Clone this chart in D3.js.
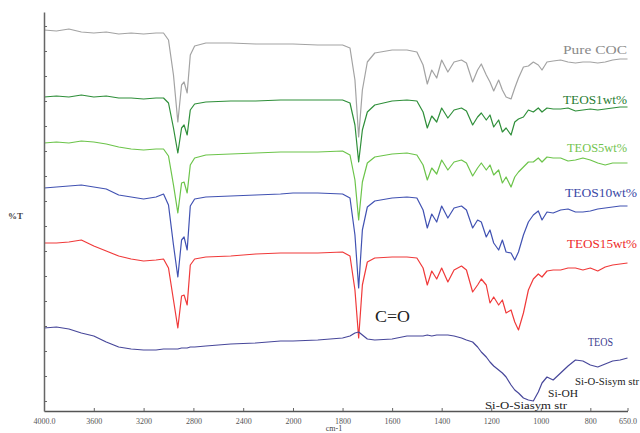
<!DOCTYPE html>
<html>
<head>
<meta charset="utf-8">
<script src="https://cdn.jsdelivr.net/npm/d3@7"></script>
<style>
  body { margin: 0; background: #fff; }
  svg { display: block; }
</style>
</head>
<body>
<svg width="640" height="433"></svg>
<script>
// wavenumber grid (cm-1) shared by all spectra
const wavenumbers = [4000, 3900, 3800, 3700, 3600, 3500, 3400, 3300, 3200, 3100,
  3040, 3000, 2960, 2925, 2895, 2875, 2850, 2825, 2790, 2700,
  2500, 2300, 2100, 2000, 1900, 1800, 1770, 1750, 1735, 1720,
  1700, 1670, 1600, 1540, 1500, 1475, 1458, 1440, 1420, 1400,
  1375, 1350, 1320, 1300, 1275, 1255, 1240, 1220, 1205, 1190,
  1170, 1155, 1140, 1120, 1105, 1090, 1070, 1050, 1030, 1010,
  995, 975, 950, 920, 890, 860, 830, 800, 770, 740,
  710, 680, 650];

// %T (stacked, arbitrary offset units)
const pureCOC = [381, 380, 382, 379, 378, 379, 377, 378, 377, 378,
  378, 371, 336, 289, 326, 329, 318, 356, 365, 368,
  368, 367, 367, 367, 366, 366, 363, 331, 274, 321,
  349, 358, 361, 361, 359, 346, 327, 341, 333, 351,
  339, 349, 351, 348, 329, 341, 347, 336, 329, 320,
  331, 321, 314, 312, 323, 333, 344, 345, 349, 346,
  341, 349, 350, 351, 349, 348, 349, 349, 348, 349,
  351, 352, 352];

const teos1 = [314, 315, 314, 316, 314, 315, 313, 313, 312, 313,
  313, 308, 283, 258, 283, 286, 276, 301, 307, 309,
  310, 310, 311, 311, 311, 311, 308, 286, 249, 281,
  299, 306, 310, 311, 310, 299, 283, 295, 289, 303,
  293, 301, 303, 300, 286, 294, 298, 291, 296, 284,
  291, 279, 283, 276, 289, 292, 294, 301, 299, 303,
  299, 303, 302, 302, 303, 300, 301, 302, 301, 302,
  303, 304, 304];

const teos5 = [268, 269, 268, 270, 269, 267, 264, 262, 261, 262,
  262, 255, 226, 198, 228, 229, 218, 246, 253, 256,
  257, 258, 259, 259, 259, 260, 256, 231, 191, 229,
  248, 254, 257, 258, 256, 246, 231, 243, 237, 251,
  241, 249, 251, 248, 235, 243, 248, 241, 246, 236,
  241, 228, 234, 224, 234, 239, 244, 249, 249, 253,
  249, 254, 253, 253, 250, 251, 253, 251, 248, 246,
  248, 248, 248];

const teos10 = [223, 224, 225, 226, 224, 222, 216, 214, 212, 214,
  217, 206, 166, 134, 171, 174, 161, 205, 212, 214,
  215, 216, 217, 218, 218, 217, 213, 176, 123, 181,
  204, 210, 213, 214, 213, 201, 183, 197, 189, 205,
  193, 203, 205, 201, 183, 191, 189, 174, 181, 168,
  161, 171, 159, 158, 151, 159, 176, 189, 196, 200,
  191, 199, 198, 201, 202, 199, 199, 200, 202, 203,
  204, 205, 205];

const teos15 = [168, 168, 169, 171, 165, 160, 155, 152, 150, 151,
  152, 143, 111, 83, 115, 116, 106, 146, 152, 154,
  155, 157, 158, 158, 158, 159, 155, 121, 73, 126,
  149, 153, 154, 154, 153, 143, 126, 140, 132, 143,
  129, 141, 145, 141, 119, 126, 132, 126, 108, 114,
  106, 111, 98, 101, 89, 81, 98, 121, 132, 137,
  134, 140, 141, 141, 143, 143, 141, 143, 140, 144,
  146, 147, 148];

const teos = [83, 84, 82, 78, 75, 69, 64, 62, 61, 61,
  62, 62, 62, 62, 63, 63, 63, 64, 64, 65,
  67, 68, 70, 70, 71, 73, 75, 78, 79, 76,
  72, 71, 72, 75, 75, 75, 76, 75, 76, 76,
  76, 75, 73, 71, 69, 64, 59, 54, 49, 45,
  41, 38, 34, 26, 21, 18, 13, 11, 10, 19,
  28, 34, 31, 38, 45, 51, 50, 46, 44, 47,
  50, 51, 53];

const seriesNames = ["Pure COC", "TEOS1wt%", "TEOS5wt%", "TEOS10wt%", "TEOS15wt%", "TEOS"];
const seriesValues = [pureCOC, teos1, teos5, teos10, teos15, teos];
const lineColors = ["#a3a3a3", "#2f8f3a", "#6cc44a", "#4152b2", "#f03a3a", "#47479a"];
const labelColors = ["#8a8a8a", "#2a7d33", "#72c44e", "#3a49a6", "#ee2b2b", "#3d3d90"];
const labelPos = [[563, 54, 64], [563, 104, 64], [567, 152, 60], [565, 197, 72], [567, 248, 70], [588, 346, 25]];

const xTicks = [4000, 3600, 3200, 2800, 2400, 2000, 1800, 1600, 1400, 1200, 1000, 800, 650];
const xTickLabels = ["4000.0", "3600", "3200", "2800", "2400", "2000", "1800", "1600", "1400", "1200", "1000", "800", "650.0"];

const annotations = [
  { text: "C=O", x: 375, y: 322, size: 17, w: 35 },
  { text: "Si-OH", x: 548, y: 397, size: 11, w: 30 },
  { text: "Si-O-Sisym str", x: 575, y: 385, size: 10, w: 64 },
  { text: "Si-O-Siasym str", x: 485, y: 409, size: 10, w: 82 }
];

const svg = d3.select("svg");
const serif = "'Liberation Serif', 'Times New Roman', serif";

// FTIR style axis: scale changes at 2000 cm-1
const x = d3.scaleLinear().domain([4000, 2000, 650]).range([44, 293, 627.5]);
const y = d3.scaleLinear().domain([0, 399]).range([411, 12]);

const line = d3.line()
  .x((d) => x(d[0]))
  .y((d) => y(d[1]));

svg.append("g")
  .selectAll("path")
  .data(seriesValues)
  .enter()
  .append("path")
  .attr("d", (vals) => line(wavenumbers.map((w, i) => [w, vals[i]])))
  .attr("fill", "none")
  .attr("stroke", (d, i) => lineColors[i])
  .attr("stroke-width", 1.2)
  .attr("stroke-linejoin", "round");

// axes
const xAxis = svg.append("g")
  .attr("transform", "translate(0,411)")
  .call(d3.axisBottom(x)
    .tickValues(xTicks)
    .tickFormat((d, i) => xTickLabels[i])
    .tickSizeInner(-3)
    .tickSizeOuter(0)
    .tickPadding(7));
xAxis.select(".domain").attr("stroke", "#555").attr("stroke-width", 1.5);
xAxis.selectAll(".tick line").attr("stroke", "#666");
xAxis.selectAll("text")
  .attr("font-family", serif)
  .attr("font-size", 8)
  .attr("fill", "#555");

const yAxis = svg.append("g")
  .attr("transform", "translate(44,0)")
  .call(d3.axisLeft(y)
    .tickValues(d3.range(10, 399, 25))
    .tickFormat("")
    .tickSizeInner(-3)
    .tickSizeOuter(0));
yAxis.select(".domain").attr("stroke", "#666").attr("stroke-width", 1.5);
yAxis.selectAll(".tick line").attr("stroke", "#666");

svg.append("text")
  .attr("x", 8)
  .attr("y", 219)
  .attr("font-family", serif)
  .attr("font-size", 9)
  .attr("font-weight", "bold")
  .attr("fill", "#444")
  .text("%T");

svg.append("text")
  .attr("x", 334)
  .attr("y", 431)
  .attr("text-anchor", "middle")
  .attr("font-family", serif)
  .attr("font-size", 8)
  .attr("fill", "#444")
  .text("cm-1");

// series labels
svg.append("g")
  .selectAll("text")
  .data(seriesNames)
  .enter()
  .append("text")
  .attr("x", (d, i) => labelPos[i][0])
  .attr("y", (d, i) => labelPos[i][1])
  .attr("textLength", (d, i) => labelPos[i][2])
  .attr("lengthAdjust", "spacingAndGlyphs")
  .attr("font-family", serif)
  .attr("font-size", 12)
  .attr("fill", (d, i) => labelColors[i])
  .text((d) => d);

// band annotations
svg.append("g")
  .selectAll("text")
  .data(annotations)
  .enter()
  .append("text")
  .attr("x", (d) => d.x)
  .attr("y", (d) => d.y)
  .attr("textLength", (d) => d.w)
  .attr("lengthAdjust", "spacingAndGlyphs")
  .attr("font-family", serif)
  .attr("font-size", (d) => d.size)
  .attr("fill", "#222")
  .text((d) => d.text);
</script>
</body>
</html>
